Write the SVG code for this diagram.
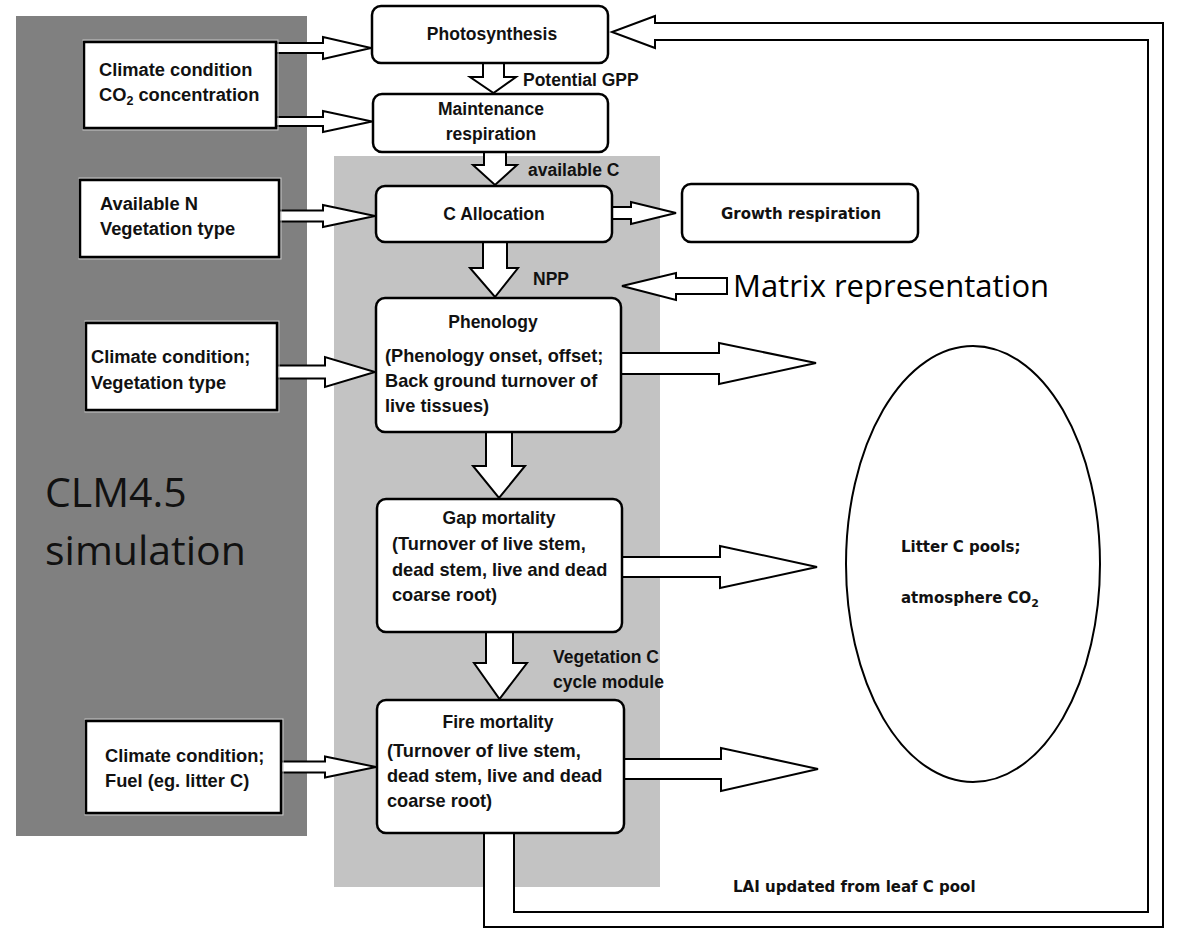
<svg xmlns="http://www.w3.org/2000/svg" width="1178" height="929" viewBox="0 0 1178 929">
<style>
.box{fill:#fff;stroke:#000;stroke-width:2.5}
.rbox{fill:#fff;stroke:#000;stroke-width:2.5}
.halo{fill:none;stroke:#c8c8c8;stroke-width:1}
.arr{fill:#fff;stroke:#000;stroke-width:2;stroke-linejoin:miter}
.b{font-family:"Liberation Sans",Arial,sans-serif;font-weight:bold;font-size:17.5px;fill:#111}
.bt{font-family:"Liberation Sans",Arial,sans-serif;font-weight:bold;font-size:18.2px;fill:#111}
.bi{font-family:"Liberation Sans",Arial,sans-serif;font-weight:bold;font-size:18.3px;fill:#111}
.bc{font-family:"Liberation Sans",Arial,sans-serif;font-weight:bold;font-size:17.5px;fill:#111;text-anchor:middle}
.v{font-family:"DejaVu Sans",Verdana,sans-serif;font-weight:bold;font-size:15px;fill:#111}
.big{font-family:"Open Sans","Noto Sans",sans-serif;font-size:41px;fill:#111}
.mid{font-family:"Open Sans","Noto Sans",sans-serif;font-size:31px;fill:#000}
</style>
<rect x="0" y="0" width="1178" height="929" fill="#fff"/>
<g id="panel-clm45">
<rect x="16" y="16" width="291" height="820" fill="#808080"/>
<text class="big" x="45" y="507">CLM4.5</text>
<text class="big" x="45" y="565">simulation</text>
</g>
<g id="panel-vegetation-module">
<rect x="334" y="156" width="326" height="731" fill="#c3c3c3"/>
<text class="b" x="553" y="663">Vegetation C</text>
<text class="b" x="553" y="688">cycle module</text>
</g>
<g id="connectors">
<!-- feedback pipe: fire mortality -> photosynthesis -->
<polygon class="arr" points="484,833 484,927 1163,927 1163,23 655,23 655,16 612,32 655,48 655,40 1148,40 1148,912 514,912 514,833"/>
<!-- inputs -->
<polygon class="arr" points="276,43 323,43 323,37 371,48 323,59 323,53 276,53"/>
<polygon class="arr" points="276,117 323,117 323,111 372,121.5 323,132 323,126 276,126"/>
<polygon class="arr" points="279,210.5 323,210.5 323,205 375,216 323,227 323,221.5 279,221.5"/>
<polygon class="arr" points="277,365.5 325,365.5 325,357 375,372 325,387 325,378.5 277,378.5"/>
<polygon class="arr" points="281,761.5 325,761.5 325,756.5 376,767 325,777.5 325,772.5 281,772.5"/>
<!-- vertical flow -->
<polygon class="arr" points="483,63 504,63 504,77 516,77 493.5,93 470,77 483,77"/>
<polygon class="arr" points="484,152 506,152 506,165 517,165 495,185 473,165 484,165"/>
<polygon class="arr" points="483,242 507,242 507,268 518,268 495,297 470,268 483,268"/>
<polygon class="arr" points="486,432 512,432 512,466 525,466 499,498 473,466 486,466"/>
<polygon class="arr" points="486,632 513,632 513,663 527,663 499.5,699 474,663 486,663"/>
<!-- growth respiration -->
<polygon class="arr" points="612,207 631,207 631,202 676,213 631,224 631,219 612,219"/>
<!-- outputs to litter pools -->
<polygon class="arr" points="621,353 719,353 719,343 816,363 719,384 719,374 621,374"/>
<polygon class="arr" points="622,557 720,557 720,546 817,567 720,588 720,577 622,577"/>
<polygon class="arr" points="624,759 721,759 721,748 818,769 721,791 721,779 624,779"/>
<!-- matrix representation -->
<polygon class="arr" points="727,278 676,278 676,273 622,286 676,300 676,294 727,294" stroke-width="2.5"/>
<text class="b" x="523" y="86">Potential GPP</text>
<text class="b" x="528" y="176">available C</text>
<text class="b" x="533" y="285">NPP</text>
<text class="v" x="733" y="892">LAI updated from leaf C pool</text>
</g>
<g id="matrix-label">
<text class="mid" x="733" y="297">Matrix representation</text>
</g>
<g id="input-climate-co2">
<rect class="halo" x="83" y="40" width="195" height="90"/>
<rect class="box" x="84" y="42" width="192" height="86"/>
<text class="bi" x="99" y="76">Climate condition</text>
<text class="bi" x="99" y="101">CO<tspan font-size="12.5" dy="4">2</tspan><tspan dy="-4"> concentration</tspan></text>
</g>
<g id="input-n-vegtype">
<rect class="halo" x="79" y="178" width="202" height="81"/>
<rect class="box" x="80" y="180" width="199" height="77"/>
<text class="bi" x="100" y="210">Available N</text>
<text class="bi" x="100" y="235">Vegetation type</text>
</g>
<g id="input-climate-vegtype">
<rect class="halo" x="85" y="321" width="194" height="91"/>
<rect class="box" x="86" y="323" width="191" height="87"/>
<text class="bi" x="91" y="363" font-size="19">Climate condition;</text>
<text class="bi" x="91" y="389" font-size="19">Vegetation type</text>
</g>
<g id="input-climate-fuel">
<rect class="halo" x="85" y="719" width="198" height="96"/>
<rect class="box" x="86" y="721" width="195" height="92"/>
<text class="bi" x="105" y="762">Climate condition;</text>
<text class="bi" x="105" y="787">Fuel (eg. litter C)</text>
</g>
<g id="photosynthesis">
<rect class="rbox" x="372" y="6" width="236" height="57" rx="9"/>
<text class="bc" x="492" y="40">Photosynthesis</text>
</g>
<g id="maintenance-respiration">
<rect class="rbox" x="373" y="94" width="235" height="58" rx="9"/>
<text class="bc" x="491" y="115">Maintenance</text>
<text class="bc" x="491" y="140">respiration</text>
</g>
<g id="c-allocation">
<rect class="rbox" x="376" y="186" width="236" height="56" rx="9"/>
<text class="bc" x="494" y="220">C Allocation</text>
</g>
<g id="growth-respiration">
<rect class="rbox" x="682" y="184" width="236" height="58" rx="9"/>
<text class="v" x="801" y="219" text-anchor="middle" font-size="15.5">Growth respiration</text>
</g>
<g id="phenology">
<rect class="rbox" x="376" y="298" width="245" height="134" rx="9"/>
<text class="bc" x="493" y="328">Phenology</text>
<text class="bt" x="385" y="362">(Phenology onset, offset;</text>
<text class="bt" x="385" y="387">Back ground turnover of</text>
<text class="bt" x="385" y="412">live tissues)</text>
</g>
<g id="gap-mortality">
<rect class="rbox" x="377" y="499" width="245" height="133" rx="9"/>
<text class="bc" x="499" y="524">Gap mortality</text>
<text class="bt" x="392" y="550">(Turnover of live stem,</text>
<text class="bt" x="392" y="576">dead stem, live and dead</text>
<text class="bt" x="392" y="601">coarse root)</text>
</g>
<g id="fire-mortality">
<rect class="rbox" x="377" y="700" width="247" height="133" rx="9"/>
<text class="bc" x="498" y="728">Fire mortality</text>
<text class="bt" x="387" y="757">(Turnover of live stem,</text>
<text class="bt" x="387" y="782">dead stem, live and dead</text>
<text class="bt" x="387" y="807">coarse root)</text>
</g>
<g id="litter-pools">
<ellipse cx="973" cy="564" rx="127" ry="218" fill="#fff" stroke="#000" stroke-width="2"/>
<text class="v" x="901" y="552">Litter C pools;</text>
<text class="v" x="901" y="603">atmosphere CO<tspan font-size="11" dy="4">2</tspan></text>
</g>
</svg>
